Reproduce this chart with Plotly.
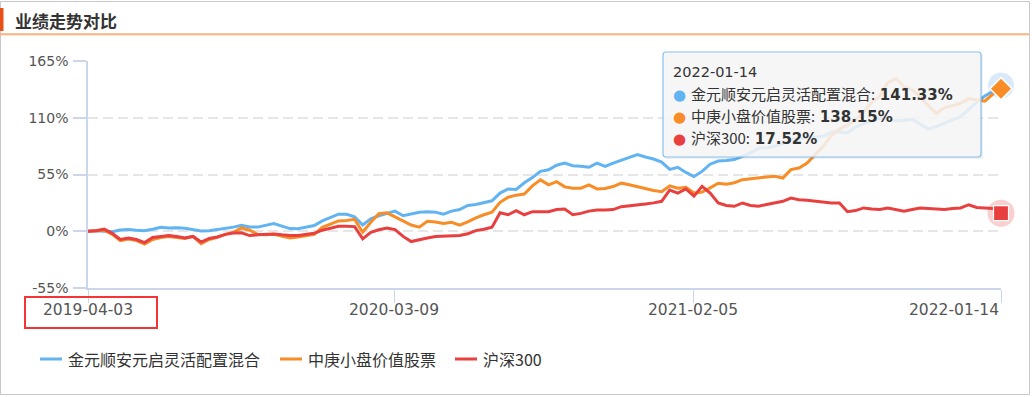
import plotly.graph_objects as go
import pandas as pd
import re

# ---------------- data ----------------
start_date = "2019-04-03"
end_date = "2022-01-14"
dates = pd.date_range(start_date, periods=114, freq="9D")

tick_dates = ["2019-04-03", "2020-03-09", "2021-02-05", "2022-01-14"]
y_ticks = [-55, 0, 55, 110, 165]
y_ticktext = ["-55%", "0%", "55%", "110%", "165%"]

names = ["金元顺安元启灵活配置混合", "中庚小盘价值股票", "沪深300"]
colors = ["#62b3f2", "#f88c26", "#e8403f"]

jinyuan = [
    0, 0.5, 0, -0.5, 1.2, 1.6, 1.0, 0.6, 2.0, 3.9,
    3.2, 3.5, 3.0, 1.5, 0.3, 0.5, 1.5, 2.6, 4.0, 5.8,
    4.2, 4.0, 5.5, 7.4, 5.0, 2.6, 2.5, 3.9, 5.5, 10.0,
    13.0, 16.5, 16.5, 14.0, 6.0, 12.0, 15.0, 17.0, 19.5, 15.0,
    17.0, 18.4, 18.8, 18.5, 16.5, 19.5, 21.0, 25.0, 26.0, 27.5,
    29.5, 37.0, 41.0, 40.5, 47.0, 52.0, 58.0, 59.6, 64.0, 66.0,
    63.5, 63.0, 62.0, 66.0, 62.9, 66.0, 69.0, 71.5, 74.3, 72.0,
    70.0, 67.0, 60.0, 62.0, 57.0, 53.0, 58.0, 65.0, 68.0, 68.5,
    69.5, 72.6, 76.0, 80.5, 81.0, 82.4, 85.0, 88.8, 89.5, 90.4,
    91.0, 92.0, 96.0, 96.5, 95.3, 101.0, 104.0, 107.0, 109.5, 109.0,
    107.0, 107.5, 108.5, 104.0, 99.0, 101.5, 105.0, 108.0, 111.0, 118.0,
    125.0, 131.0, 135.7, 141.33,
]

zhonggeng = [
    0, 0.5, 1.0, -3.0, -9.0, -7.5, -9.0, -12.5, -8.0, -6.0,
    -5.0, -6.0, -7.0, -5.0, -12.0, -8.0, -6.0, -3.0, -1.0, 3.2,
    1.0, -3.0, -3.5, -3.0, -5.0, -6.5, -5.5, -4.5, -3.0, 3.9,
    7.0, 10.0, 10.5, 11.5, -1.0, 8.7, 17.0, 17.8, 14.0, 10.4,
    6.0, 4.0, 9.7, 9.0, 7.5, 8.7, 6.0, 9.0, 13.0, 16.0,
    18.5, 28.0, 33.0, 35.0, 36.0, 44.0, 49.8, 45.0, 48.0, 43.0,
    41.7, 41.7, 45.0, 41.0, 41.5, 43.3, 46.6, 45.0, 43.3, 41.0,
    39.5, 38.4, 44.0, 41.7, 42.5, 37.0, 38.0, 42.0, 46.5, 45.5,
    47.0, 50.0, 51.0, 51.6, 52.5, 53.2, 51.6, 59.7, 61.3, 66.0,
    74.0, 82.4, 93.0, 99.0, 103.0, 108.0, 116.0, 125.0, 131.0, 144.0,
    148.0, 140.0, 137.0, 130.0, 122.0, 114.0, 119.6, 122.0, 124.0, 128.5,
    127.0, 126.0, 133.0, 138.15,
]

hs300 = [
    0, 0.5, 2.0, -2.0, -8.0, -6.5, -8.0, -11.0, -6.0, -5.0,
    -4.2, -5.0, -6.5, -5.0, -10.5, -7.0, -5.5, -3.0, -1.6, -1.5,
    -4.2, -3.5, -3.0, -2.6, -3.5, -4.2, -4.0, -3.2, -2.0, 1.0,
    3.0, 4.9, 4.9, 4.5, -7.4, -1.0, 1.5, 3.2, 1.6, -5.0,
    -10.0, -8.0, -6.5, -5.0, -4.9, -4.5, -4.2, -2.5, 0.6, 2.0,
    3.9, 18.0, 16.0, 20.0, 16.0, 19.0, 19.0, 18.9, 21.0, 21.5,
    16.0, 17.3, 19.5, 20.5, 20.5, 21.0, 23.8, 24.5, 25.4, 26.5,
    27.5, 29.0, 40.0, 37.0, 41.0, 34.0, 43.5, 37.0, 27.4, 25.0,
    24.2, 27.4, 25.0, 24.2, 26.0, 27.4, 29.0, 32.2, 30.6, 30.0,
    29.0, 28.0, 27.4, 27.4, 19.0, 20.0, 22.6, 21.5, 21.0, 22.6,
    21.0, 19.3, 21.0, 22.6, 22.0, 21.5, 21.0, 22.0, 22.6, 25.7,
    23.0, 22.5, 22.0, 17.52,
]
series = [jinyuan, zhonggeng, hs300]

# ---------------- geometry helpers (pixel -> paper) ----------------
W, H = 1032, 397
L, R, T, B = 88, 1001, 61, 288


def xp(px):
    return (px - L) / (R - L)


def yp(py):
    return (B - py) / (B - T)


FONT = "DejaVu Sans, Noto Sans CJK SC, sans-serif"
CJK = "Noto Sans CJK SC, DejaVu Sans, sans-serif"

fig = go.Figure()

for nm, vals, col in zip(names, series, colors):
    fig.add_trace(go.Scatter(
        x=dates, y=vals, mode="lines", name=nm,
        line=dict(color=col, width=3),
        hoverinfo="skip", showlegend=False,
    ))

# end-point hover markers
last_x = [dates[-1]]
fig.add_trace(go.Scatter(x=last_x, y=[jinyuan[-1]], mode="markers",
                         marker=dict(size=26, color="rgba(124,181,236,0.28)"),
                         cliponaxis=False, hoverinfo="skip", showlegend=False))
fig.add_trace(go.Scatter(x=last_x, y=[jinyuan[-1]], mode="markers",
                         marker=dict(size=12, color="#8fb0cf", line=dict(color="#c9dced", width=1)),
                         cliponaxis=False, hoverinfo="skip", showlegend=False))
fig.add_trace(go.Scatter(x=last_x, y=[zhonggeng[-1]], mode="markers",
                         marker=dict(size=17, symbol="diamond", color=colors[1],
                                     line=dict(color="white", width=1.5)),
                         cliponaxis=False, hoverinfo="skip", showlegend=False))
fig.add_trace(go.Scatter(x=last_x, y=[hs300[-1]], mode="markers",
                         marker=dict(size=27, color="rgba(232,64,63,0.25)"),
                         cliponaxis=False, hoverinfo="skip", showlegend=False))
fig.add_trace(go.Scatter(x=last_x, y=[hs300[-1]], mode="markers",
                         marker=dict(size=15, symbol="square", color=colors[2],
                                     line=dict(color="white", width=1.2)),
                         cliponaxis=False, hoverinfo="skip", showlegend=False))

shapes = []
annotations = []

# outer frame
shapes.append(dict(type="rect", xref="paper", yref="paper",
                   x0=xp(0.5), x1=xp(1029.5), y0=yp(1.5), y1=yp(394.5),
                   line=dict(color="#c8c8c8", width=1), fillcolor="rgba(0,0,0,0)", layer="below"))
# title block and underline
shapes.append(dict(type="rect", xref="paper", yref="paper",
                   x0=xp(0), x1=xp(3.5), y0=yp(8), y1=yp(31),
                   line=dict(width=0), fillcolor="#e8501a"))
shapes.append(dict(type="line", xref="paper", yref="paper",
                   x0=xp(0), x1=xp(1029), y0=yp(34.3), y1=yp(34.3),
                   line=dict(color="#ffb07e", width=2)))
annotations.append(dict(xref="paper", yref="paper", x=xp(13), y=yp(20.5),
                        xanchor="left", yanchor="middle", showarrow=False,
                        text="<b>业绩走势对比</b>",
                        font=dict(family=CJK, size=17, color="#333333")))

# x tick labels
for i, d in enumerate(tick_dates):
    annotations.append(dict(xref="x", yref="paper", x=d, y=yp(310),
                            xanchor="right" if i == len(tick_dates) - 1 else "center",
                            yanchor="middle", showarrow=False, text=d,
                            font=dict(family=FONT, size=15.5, color="#555555")))

# red highlight box around first date label
shapes.append(dict(type="rect", xref="paper", yref="paper",
                   x0=xp(25), x1=xp(157), y0=yp(297), y1=yp(328),
                   line=dict(color="#f53535", width=2), fillcolor="rgba(0,0,0,0)"))

# manual legend
leg_x = [40, 280, 455]
for lx, nm, col in zip(leg_x, names, colors):
    shapes.append(dict(type="line", xref="paper", yref="paper",
                       x0=xp(lx), x1=xp(lx + 22), y0=yp(359), y1=yp(359),
                       line=dict(color=col, width=3)))
    annotations.append(dict(xref="paper", yref="paper", x=xp(lx + 26), y=yp(359),
                            xanchor="left", yanchor="middle", showarrow=False, text=nm,
                            font=dict(family=CJK, size=16, color="#333333")))

# tooltip box
tx0, tx1, ty0, ty1, rr = 663, 981, 52, 157, 3
path = (f"M {tx0+rr} {ty0} L {tx1-rr} {ty0} Q {tx1} {ty0} {tx1} {ty0+rr} "
        f"L {tx1} {ty1-rr} Q {tx1} {ty1} {tx1-rr} {ty1} L {tx0+rr} {ty1} "
        f"Q {tx0} {ty1} {tx0} {ty1-rr} L {tx0} {ty0+rr} Q {tx0} {ty0} {tx0+rr} {ty0} Z")
shapes.append(dict(type="rect", xref="paper", yref="paper",
                   x0=xp(tx0 + 2), x1=xp(tx1 + 2), y0=yp(ty0 + 2), y1=yp(ty1 + 2),
                   line=dict(width=0), fillcolor="rgba(0,0,0,0.06)", layer="above"))
tokens = path.split()
conv = []
is_x = True
for tk in tokens:
    if re.fullmatch(r"[MLQZ]", tk):
        conv.append(tk)
        is_x = True
    else:
        v = float(tk)
        conv.append(f"{xp(v):.6f}" if is_x else f"{yp(v):.6f}")
        is_x = not is_x
shapes.append(dict(type="path", xref="paper", yref="paper", path=" ".join(conv),
                   line=dict(color="#86c0ee", width=1.2),
                   fillcolor="rgba(247,247,247,0.86)", layer="above"))

annotations.append(dict(xref="paper", yref="paper", x=xp(672), y=yp(72),
                        xanchor="left", yanchor="middle", showarrow=False, borderpad=0,
                        text="2022-01-14",
                        font=dict(family=FONT, size=14.5, color="#333333")))
row_y = [93.5, 115.3, 137.1]
for ry, nm, col, vals in zip(row_y, names, colors, series):
    annotations.append(dict(
        xref="paper", yref="paper", x=xp(672), y=yp(ry),
        xanchor="left", yanchor="middle", showarrow=False, borderpad=0,
        text=(f"<span style='color:{col}'>●</span> "
              f"<span style='font-family:Noto Sans CJK SC'>{nm}:</span> "
              f"<b>{vals[-1]:.2f}%</b>"),
        font=dict(family=FONT, size=15, color="#333333")))

fig.update_layout(
    width=W, height=H,
    margin=dict(l=L, r=W - R, t=T, b=H - B, pad=0),
    paper_bgcolor="white", plot_bgcolor="white",
    showlegend=False,
    shapes=shapes, annotations=annotations,
    xaxis=dict(
        type="date", range=[start_date, end_date],
        tickvals=tick_dates, showticklabels=False,
        ticks="outside", ticklen=13, tickcolor="#ccd6eb", tickwidth=1,
        showline=True, linecolor="#ccd6eb", linewidth=2,
        showgrid=False, zeroline=False, fixedrange=True,
    ),
    yaxis=dict(
        range=[-55, 165], tickvals=y_ticks, ticktext=y_ticktext,
        ticks="outside", ticklen=13, tickcolor="#ccd6eb", tickwidth=1.5,
        ticklabelstandoff=2,
        showline=True, linecolor="#ccd6eb", linewidth=1.5,
        showgrid=True, gridcolor="#e6e6e6", gridwidth=1.5, griddash="10px,5px",
        zeroline=False, fixedrange=True,
        tickfont=dict(family=FONT, size=14, color="#555555"),
    ),
    font=dict(family=FONT),
)

fig.write_html("out.html", config={"displayModeBar": False},
               post_script="document.body.style.margin='0';")
